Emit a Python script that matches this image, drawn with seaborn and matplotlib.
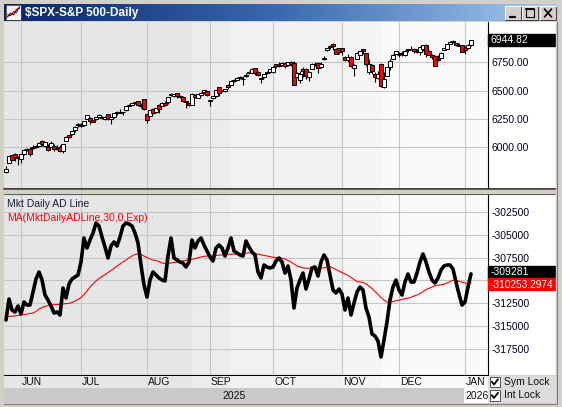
import numpy as np
import pandas as pd
import matplotlib
matplotlib.use("Agg")
import matplotlib.pyplot as plt
import seaborn as sns
from matplotlib.patches import Rectangle
from matplotlib.lines import Line2D
from matplotlib.colors import LinearSegmentedColormap

# --- chart data (trading days from May 23 2025 to Jan 6 2026) ---
months = ["JUN", "JUL", "AUG", "SEP", "OCT", "NOV", "DEC", "JAN"]
month_start = [5, 25, 47, 68, 89, 112, 131, 153]
price_ticks = [6000, 6250, 6500, 6750]
ad_ticks = [-317500, -315000, -312500, -310000, -307500, -305000, -302500]

spx_open = [
    5781, 5854, 5925, 5939, 5903, 5896, 5938, 5978, 5985, 5987,
    6004, 6010, 6049, 6010, 6001, 6004, 6013, 5987, 6004, 5969,
    6057, 6104, 6113, 6151, 6194, 6187, 6192, 6246, 6259, 6239,
    6245, 6266, 6270, 6250, 6288, 6248, 6264, 6313, 6304, 6307,
    6326, 6368, 6370, 6397, 6409, 6375, 6428, 6288, 6272, 6336,
    6309, 6375, 6360, 6392, 6395, 6460, 6452, 6478, 6446, 6446,
    6409, 6390, 6375, 6458, 6435, 6457, 6483, 6494, 6406, 6437,
    6456, 6530, 6498, 6500, 6545, 6546, 6590, 6595, 6623, 6606,
    6631, 6653, 6652, 6702, 6668, 6610, 6616, 6662, 6662, 6665,
    6732, 6723, 6730, 6746, 6728, 6754, 6740, 6620, 6597, 6687,
    6687, 6618, 6690, 6736, 6743, 6705, 6777, 6855, 6885, 6909,
    6866, 6874, 6873, 6796, 6768, 6801, 6699, 6782, 6818, 6867,
    6832, 6666, 6722, 6648, 6614, 6731, 6530, 6633, 6706, 6779,
    6823, 6818, 6830, 6815, 6866, 6867, 6872, 6844, 6841, 6865,
    6904, 6852, 6812, 6805, 6780, 6784, 6857, 6870, 6916, 6936,
    6918, 6906, 6899, 6878, 6881, 6903,
]
spx_high = [
    5829, 5924, 5930, 5943, 5922, 5938, 5981, 5990, 5999, 6017,
    6022, 6043, 6060, 6046, 6026, 6050, 6024, 6019, 6019, 6028,
    6101, 6108, 6146, 6188, 6216, 6210, 6228, 6285, 6262, 6242,
    6265, 6291, 6275, 6272, 6290, 6266, 6303, 6316, 6336, 6310,
    6359, 6381, 6390, 6401, 6409, 6393, 6428, 6288, 6330, 6346,
    6349, 6379, 6395, 6410, 6446, 6481, 6473, 6481, 6457, 6456,
    6410, 6394, 6478, 6467, 6467, 6484, 6508, 6494, 6416, 6455,
    6502, 6533, 6508, 6513, 6555, 6592, 6600, 6616, 6627, 6626,
    6656, 6672, 6698, 6702, 6673, 6623, 6645, 6674, 6689, 6716,
    6732, 6751, 6749, 6749, 6754, 6759, 6764, 6665, 6676, 6709,
    6703, 6670, 6745, 6752, 6752, 6749, 6807, 6876, 6902, 6920,
    6875, 6875, 6878, 6804, 6820, 6802, 6732, 6842, 6847, 6870,
    6832, 6775, 6736, 6661, 6673, 6748, 6663, 6709, 6777, 6826,
    6850, 6843, 6851, 6862, 6866, 6895, 6876, 6865, 6894, 6901,
    6914, 6856, 6820, 6811, 6812, 6838, 6880, 6910, 6937, 6946,
    6920, 6917, 6900, 6892, 6913, 6946,
]
spx_low = [
    5767, 5854, 5887, 5874, 5843, 5861, 5929, 5966, 5921, 5978,
    5994, 6000, 6011, 6004, 5963, 6004, 5968, 5977, 5952, 5943,
    6057, 6081, 6103, 6133, 6175, 6178, 6189, 6246, 6201, 6217,
    6235, 6259, 6249, 6237, 6243, 6201, 6261, 6283, 6303, 6282,
    6316, 6360, 6368, 6380, 6363, 6345, 6328, 6212, 6272, 6288,
    6302, 6305, 6360, 6365, 6385, 6452, 6441, 6436, 6437, 6401,
    6343, 6360, 6375, 6438, 6433, 6456, 6469, 6450, 6360, 6428,
    6445, 6454, 6488, 6488, 6516, 6546, 6577, 6594, 6600, 6551,
    6618, 6646, 6652, 6640, 6627, 6570, 6607, 6645, 6656, 6656,
    6697, 6706, 6717, 6700, 6718, 6721, 6550, 6620, 6570, 6620,
    6603, 6583, 6690, 6718, 6657, 6696, 6774, 6846, 6864, 6856,
    6820, 6822, 6811, 6762, 6751, 6708, 6631, 6782, 6813, 6827,
    6721, 6646, 6650, 6580, 6606, 6534, 6521, 6630, 6679, 6779,
    6823, 6800, 6806, 6810, 6839, 6859, 6834, 6832, 6812, 6848,
    6801, 6812, 6776, 6718, 6765, 6784, 6857, 6865, 6916, 6923,
    6895, 6892, 6845, 6825, 6868, 6893,
]
spx_close = [
    5802.82, 5921.54, 5888.55, 5912.17, 5911.69, 5935.94, 5970.37, 5970.81, 5939.30, 6000.36,
    6005.88, 6038.81, 6022.24, 6045.26, 5976.97, 6033.11, 5982.72, 5980.87, 5967.84, 6025.17,
    6092.18, 6092.16, 6141.02, 6173.07, 6204.95, 6198.01, 6227.42, 6279.35, 6229.98, 6225.52,
    6263.26, 6280.46, 6259.75, 6268.56, 6243.76, 6263.70, 6297.36, 6296.79, 6305.60, 6309.62,
    6358.91, 6363.35, 6388.64, 6389.77, 6370.86, 6362.90, 6339.39, 6238.01, 6329.94, 6299.19,
    6345.06, 6340.00, 6389.45, 6373.45, 6445.76, 6466.58, 6468.54, 6449.80, 6449.15, 6411.37,
    6395.78, 6370.17, 6466.91, 6439.32, 6465.94, 6481.40, 6501.86, 6460.26, 6415.54, 6448.26,
    6502.08, 6481.50, 6495.15, 6512.61, 6532.04, 6587.47, 6584.29, 6615.28, 6606.76, 6600.35,
    6631.96, 6664.36, 6693.75, 6656.92, 6637.97, 6604.72, 6643.70, 6661.21, 6688.46, 6711.20,
    6715.35, 6715.79, 6740.28, 6714.59, 6753.72, 6735.11, 6552.51, 6654.72, 6644.31, 6671.06,
    6629.07, 6664.01, 6735.13, 6735.35, 6699.40, 6738.44, 6791.69, 6875.16, 6890.89, 6890.59,
    6822.34, 6840.20, 6851.97, 6771.55, 6796.29, 6720.32, 6728.80, 6832.43, 6846.61, 6850.92,
    6737.49, 6734.11, 6672.41, 6617.32, 6642.16, 6538.76, 6602.99, 6705.12, 6765.88, 6812.61,
    6849.09, 6812.63, 6829.37, 6849.72, 6857.12, 6870.40, 6846.51, 6840.51, 6886.68, 6901.00,
    6827.41, 6816.51, 6800.26, 6721.43, 6774.76, 6834.50, 6878.49, 6909.79, 6932.05, 6929.94,
    6905.74, 6896.24, 6845.50, 6858.47, 6902.05, 6944.82,
]

ad_line = [
    -314358, -312046, -313257, -313477, -312817, -313697, -312376, -312707, -312707, -311275,
    -309844, -309073, -309954, -311606, -312156, -312817, -313587, -313477, -313808, -310835,
    -311936, -310394, -309844, -309624, -309404, -307972, -305330, -306431, -305550, -304779,
    -303678, -304009, -305220, -306321, -307532, -306211, -305770, -306211, -305220, -304009,
    -303678, -303788, -304009, -304779, -305880, -308303, -310505, -311826, -309954, -309073,
    -309404, -309734, -309954, -310064, -307312, -305330, -307532, -307752, -307972, -308082,
    -308523, -307972, -305550, -306431, -305660, -305330, -306101, -306761, -307422, -307862,
    -306431, -306101, -306431, -307312, -306431, -305330, -306761, -306981, -307202, -307312,
    -305660, -306321, -306871, -307202, -309073, -309734, -308303, -308523, -308633, -308523,
    -307862, -307532, -307972, -309183, -308413, -309954, -313037, -310835, -309954, -309183,
    -310945, -309844, -308633, -308523, -309514, -307972, -307202, -307752, -309404, -311055,
    -311385, -310945, -311495, -313257, -311936, -313808, -312486, -311275, -310725, -311055,
    -313037, -314028, -315899, -316120, -316670, -318432, -316560, -314578, -312156, -310725,
    -309954, -311055, -311606, -310174, -309293, -310174, -310174, -309183, -307972, -307091,
    -307972, -309073, -309954, -310284, -309734, -308853, -308413, -308303, -308303, -308743,
    -310174, -311495, -312707, -312376, -310725, -309281,
]
ad_ma = [
    -313995, -313973, -313940, -313896, -313852, -313808, -313753, -313697, -313642, -313587,
    -313422, -313147, -312982, -312872, -312762, -312707, -312673, -312651, -312629, -312596,
    -312552, -312530, -312431, -312266, -312101, -311881, -311550, -311165, -310725, -310394,
    -310064, -309789, -309569, -309348, -309128, -308908, -308688, -308413, -308192, -307972,
    -307752, -307532, -307312, -307146, -307091, -307146, -307312, -307477, -307642, -307752,
    -307829, -307917, -308082, -308137, -308115, -308082, -308027, -307972, -307939, -307862,
    -307785, -307730, -307675, -307587, -307499, -307422, -307345, -307312, -307312, -307279,
    -307235, -307202, -307179, -307146, -307124, -307113, -307102, -307091, -307091, -307047,
    -307003, -306959, -306981, -307047, -307124, -307179, -307257, -307312, -307378, -307444,
    -307488, -307532, -307554, -307642, -307807, -307972, -308192, -308413, -308523, -308611,
    -308655, -308666, -308633, -308611, -308611, -308644, -308611, -308545, -308490, -308633,
    -308798, -308963, -309128, -309293, -309459, -309679, -309899, -310141, -310174, -310207,
    -310394, -310615, -310890, -311220, -311550, -311881, -312156, -312376, -312431, -312321,
    -312244, -312178, -312101, -312024, -311936, -311859, -311716, -311606, -311440, -311220,
    -311000, -310868, -310725, -310593, -310538, -310482, -310416, -310284, -310119, -309976,
    -310009, -310097, -310174, -310280, -310320, -310253.2974,
]

W, H = 562, 407


def px_rect(x0, y0, x1, y1):
    """pixel box (top-left origin) -> figure fraction rect"""
    return [x0 / W, 1 - y1 / H, (x1 - x0) / W, (y1 - y0) / H]


def shade(ax):
    # background bands of the chart window
    bands = [(-0.7, 62, "#e6e6e6"), (62, 74.7, "#ececec"), (74.7, 112, "#f1f1f1"),
             (112, 125, "#f5f5f5"), (125, 161, "#fafafa")]
    for a, b, c in bands:
        ax.axvspan(a, b, color=c, lw=0, zorder=0)


sns.set_style("white")
plt.rcParams["font.family"] = ["Liberation Sans", "DejaVu Sans"]

fig = plt.figure(figsize=(W / 100, H / 100), dpi=100)
fig.patch.set_facecolor("#d4d0c8")

idx = np.arange(len(spx_close))
xlim = (-0.67, 160.67)

# white area behind the value scales
wa = fig.add_axes(px_rect(4, 22, 556, 375))
wa.set_facecolor("white")
wa.set_xticks([]); wa.set_yticks([])
for s in wa.spines.values():
    s.set_visible(False)

# title bar
tb = fig.add_axes(px_rect(4, 4, 558, 21))
grad = LinearSegmentedColormap.from_list("tb", ["#0a246a", "#3a6ab0", "#a6caf0"])
tb.imshow(np.linspace(0, 1, 256)[None, :], cmap=grad, aspect="auto")
tb.axis("off")
fig.text(25 / W, 1 - 13 / H, "$SPX-S&P 500-Daily", color="white", fontsize=8.5,
         fontweight="bold", va="center", ha="left", zorder=6)

# window icon
ic = fig.add_axes(px_rect(6, 5, 21, 20))
ic.set_facecolor("#f4f4f4")
ic.plot([0.1, 0.3, 0.5, 0.7, 0.9], [0.2, 0.45, 0.35, 0.7, 0.8], color="#c00000", lw=1)
ic.plot([0.1, 0.3, 0.5, 0.7, 0.9], [0.35, 0.3, 0.55, 0.5, 0.9], color="black", lw=0.6)
ic.set_xlim(0, 1); ic.set_ylim(0, 1)
ic.set_xticks([]); ic.set_yticks([])
for s in ic.spines.values():
    s.set_color("#404040"); s.set_linewidth(0.6)

# window buttons
for kind, (x0, x1) in zip(["min", "max", "close"], [(505, 521), (522, 538), (540, 556)]):
    b = fig.add_axes(px_rect(x0, 6, x1, 20))
    b.set_facecolor("#d4d0c8")
    b.set_xlim(0, 1); b.set_ylim(0, 1)
    b.set_xticks([]); b.set_yticks([])
    for s in b.spines.values():
        s.set_color("#404040"); s.set_linewidth(0.7)
    b.spines["top"].set_color("white"); b.spines["left"].set_color("white")
    if kind == "min":
        b.plot([0.3, 0.65], [0.25, 0.25], color="black", lw=1.6)
    elif kind == "max":
        b.add_patch(Rectangle((0.22, 0.2), 0.56, 0.6, fill=False, ec="black", lw=0.8))
        b.plot([0.22, 0.78], [0.77, 0.77], color="black", lw=1.4)
    else:
        b.plot([0.28, 0.72], [0.22, 0.78], color="black", lw=1.2)
        b.plot([0.28, 0.72], [0.78, 0.22], color="black", lw=1.2)

label_kw = dict(fontsize=7.5, color="#00002a")

# --- upper panel: candlesticks ---
ax1 = fig.add_axes(px_rect(4, 22, 488, 188.5))
shade(ax1)
df = pd.DataFrame({"i": idx, "o": spx_open, "h": spx_high, "l": spx_low, "c": spx_close})
df["up"] = df["c"] >= df["o"]
ax1.vlines(df["i"], df["l"], df["h"], color="black", lw=0.8, zorder=3)
body = (df["c"] - df["o"]).where(lambda s: s.abs() > 4, 4 * np.sign(df["c"] - df["o"] + 1e-9))
ax1.bar(df["i"], body, bottom=df["o"], width=1.45,
        color=np.where(df["up"], "white", "#ff0000"), edgecolor="black", lw=0.7, zorder=4)
ax1.set_xlim(*xlim)
ax1.set_ylim(5632.5, 7107)
ax1.set_yticks(price_ticks)
ax1.set_yticklabels([f"{v:.2f}" for v in price_ticks], **label_kw)
ax1.set_xticks(month_start)
ax1.set_xticklabels([])
ax1.yaxis.tick_right()
ax1.tick_params(axis="both", length=0, pad=2.2)
ax1.grid(True, color="#c6c6c6", lw=0.8, zorder=1)
ax1.set_axisbelow(True)
for s in ["top", "left", "bottom"]:
    ax1.spines[s].set_visible(False)
ax1.spines["right"].set_color("black"); ax1.spines["right"].set_linewidth(0.8)

# --- lower panel: AD line and its moving average ---
ax2 = fig.add_axes(px_rect(4, 194, 488, 375))
shade(ax2)
sns.lineplot(x=idx, y=ad_ma, ax=ax2, color="#ff0000", lw=0.8, zorder=3)
sns.lineplot(x=idx, y=ad_line, ax=ax2, color="black", lw=2.6, zorder=4)
ax2.set_xlim(*xlim)
ax2.set_ylim(-320413, -300485)
ax2.set_yticks(ad_ticks)
# the -310000 label sits under the value boxes, so it stays blank
ax2.set_yticklabels(["" if v == -310000 else f"{v}" for v in ad_ticks], **label_kw)
ax2.set_xticks(month_start)
ax2.set_xticklabels([])
ax2.yaxis.tick_right()
ax2.tick_params(axis="both", length=0, pad=2.2)
ax2.grid(True, color="#c6c6c6", lw=0.8, zorder=1)
ax2.set_axisbelow(True)
ax2.set_xlabel(""); ax2.set_ylabel("")
for s in ["top", "left"]:
    ax2.spines[s].set_visible(False)
ax2.spines["right"].set_color("black"); ax2.spines["right"].set_linewidth(0.8)
ax2.spines["bottom"].set_color("black"); ax2.spines["bottom"].set_linewidth(0.8)
ax2.text(0.006, 0.975, "Mkt Daily AD Line", transform=ax2.transAxes, fontsize=7.5,
         color="#1a1a40", va="top", ha="left", zorder=6)
ax2.text(0.006, 0.895, "MA(MktDailyADLine,30,0,Exp)", transform=ax2.transAxes,
         fontsize=7.5, color="#ff0000", va="top", ha="left", zorder=6)

# separator between the panels
fig.add_artist(Line2D([4 / W, 556 / W], [1 - 189.3 / H] * 2, color="#303030", lw=1.3))
fig.add_artist(Line2D([4 / W, 556 / W], [1 - 193.8 / H] * 2, color="#404040", lw=0.8))
fig.add_artist(Rectangle((4 / W, 1 - 193.3 / H), 552 / W, 3.4 / H,
                         transform=fig.transFigure, color="#d4d0c8", zorder=2))


# value boxes on the right scale
def value_box(ax, val, text, face, y_shift=0.0):
    fig.canvas.draw()
    yc = ax.transData.transform((0, val))[1] + y_shift
    fig.add_artist(Rectangle((488 / W, (yc - 6) / H), 68 / W, 12 / H,
                             transform=fig.transFigure, color=face, zorder=7))
    fig.text(490.5 / W, yc / H, text, color="white", fontsize=7.5,
             va="center", ha="left", zorder=8)
    return yc


value_box(ax1, spx_close[-1], f"{spx_close[-1]:.2f}", "black")
yb = value_box(ax2, ad_line[-1], f"{ad_line[-1]}", "black", 1.5)
fig.add_artist(Rectangle((488 / W, (yb - 18) / H), 68 / W, 12 / H,
                         transform=fig.transFigure, color="#ff0000", zorder=7))
fig.text(490.5 / W, (yb - 12.5) / H, f"{ad_ma[-1]:.4f}", color="white", fontsize=7.3,
         va="center", ha="left", zorder=8)

# month label row
ax3 = fig.add_axes(px_rect(4, 375.5, 488, 388))
shade(ax3)
ax3.set_xlim(*xlim); ax3.set_ylim(0, 1)
ax3.axis("off")
for m, s in zip(months, month_start):
    ax3.text(s + 0.35, 0.45, m, fontsize=7.5, color="#101010", va="center", ha="left")

# year row
ax4 = fig.add_axes(px_rect(4, 388, 488, 403))
ax4.set_facecolor("#c9c9c9")
ax4.set_xlim(*xlim); ax4.set_ylim(0, 1)
ax4.set_xticks([]); ax4.set_yticks([])
for s in ax4.spines.values():
    s.set_visible(False)
ax4.axvspan(month_start[-1] - 0.35, xlim[1], color="white", lw=0)
ax4.text((month_start[0] + month_start[-1]) / 2 - 3, 0.45, "2025", fontsize=7.5,
         color="#101010", va="center", ha="center")
ax4.text(month_start[-1] + 0.2, 0.45, "2026", fontsize=7.5, color="#101010",
         va="center", ha="left")

# lock check boxes
ax5 = fig.add_axes(px_rect(488, 375.5, 556, 403))
ax5.set_facecolor("#dcdcdc")
ax5.set_xlim(0, 68); ax5.set_ylim(27.5, 0)
ax5.set_xticks([]); ax5.set_yticks([])
for s in ax5.spines.values():
    s.set_visible(False)
for y0, lab in [(1, "Sym Lock"), (14.5, "Int Lock")]:
    ax5.add_patch(Rectangle((1.5, y0), 10.5, 10.5, facecolor="white", edgecolor="#505050", lw=0.7))
    ax5.plot([3.8, 6, 10], [y0 + 5.2, y0 + 8, y0 + 2.8], color="black", lw=1.3)
    ax5.text(16, y0 + 5.5, lab, fontsize=7.5, color="#101010", va="center", ha="left")

# right and bottom window frame
fig.add_artist(Rectangle((556 / W, 0), 6 / W, 1 - 21 / H, transform=fig.transFigure,
                         color="#d4d0c8", zorder=9))
fig.add_artist(Line2D([556.5 / W] * 2, [1 - 403 / H, 1 - 22 / H], color="#808080", lw=0.8, zorder=10))
fig.add_artist(Line2D([4 / W, 556.5 / W], [1 - 403.5 / H] * 2, color="#808080", lw=0.8, zorder=10))

fig.savefig("out.png", dpi=100, facecolor=fig.get_facecolor())
